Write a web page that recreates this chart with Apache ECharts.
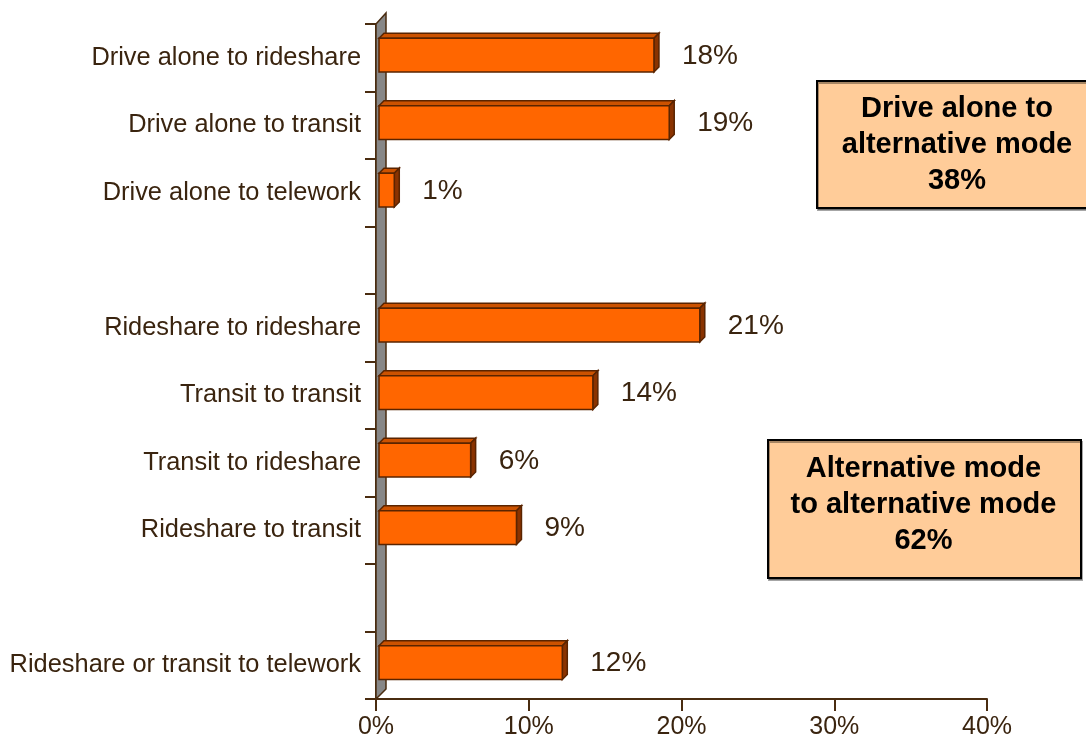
<!DOCTYPE html>
<html>
<head>
<meta charset="utf-8">
<script src="https://cdn.jsdelivr.net/npm/echarts@6/dist/echarts.min.js"></script>
<style>
html,body{margin:0;padding:0;background:#fff;}
#chart{width:1086px;height:743px;}
</style>
</head>
<body>
<div id="chart"></div>
<script>
// ---- data ----
const categories = [
  'Drive alone to rideshare',
  'Drive alone to transit',
  'Drive alone to telework',
  '',
  'Rideshare to rideshare',
  'Transit to transit',
  'Transit to rideshare',
  'Rideshare to transit',
  '',
  'Rideshare or transit to telework'
];
const values = [18, 19, 1, null, 21, 14, 6, 9, null, 12];
const xTickValues = [0, 10, 20, 30, 40];
const box1Lines = ['Drive alone to', 'alternative mode', '38%'];
const box2Lines = ['Alternative mode', 'to alternative mode', '62%'];

// ---- styles ----
const FONT = '"Liberation Sans", Arial, sans-serif';
const TEXT_COLOR = '#3a240f';
const AXIS_COLOR = '#4a2c10';
const EDGE = '#5a2400';

const chart = echarts.init(document.getElementById('chart'), null, {renderer: 'canvas'});

const barData = values.map((v, i) => v === null ? null : [v, i]).filter(d => d !== null);

function renderBar(params, api) {
  const v = api.value(0);
  const idx = api.value(1);
  const base = api.coord([0, idx]);
  const end = api.coord([v, idx]);
  const band = api.size([0, 1])[1];
  const h = band * 0.5;
  const cy = base[1] - band * 0.04;
  const shift = 3, d = 5;
  const x0 = base[0] + shift;
  const x1 = end[0] + shift;
  const yt = cy - h / 2, yb = cy + h / 2;
  return {
    type: 'group',
    children: [
      {type: 'polygon', shape: {points: [[x0, yt], [x0 + d, yt - d], [x1 + d, yt - d], [x1, yt]]},
       style: {fill: '#cc5200', stroke: EDGE, lineWidth: 1.5}},
      {type: 'polygon', shape: {points: [[x1, yt], [x1 + d, yt - d], [x1 + d, yb - d], [x1, yb]]},
       style: {fill: '#8a3300', stroke: EDGE, lineWidth: 1.5}},
      {type: 'rect', shape: {x: x0, y: yt, width: x1 - x0, height: h},
       style: {fill: '#ff6600', stroke: EDGE, lineWidth: 1.5}},
      {type: 'text', x: x1 + 28, y: cy + 1,
       style: {text: v + '%', font: '28px ' + FONT, fill: TEXT_COLOR, align: 'left', verticalAlign: 'middle'}}
    ]
  };
}

function renderWall(params, api) {
  const cs = params.coordSys;
  const x = cs.x, yTop = cs.y, yBot = cs.y + cs.height;
  const dx = 10, dy = 10;
  return {
    type: 'group',
    children: [
      {type: 'polygon', shape: {points: [[x, yTop], [x + dx, yTop - dy - 1], [x + dx, yBot - dy], [x, yBot]]},
       style: {fill: '#878787', stroke: AXIS_COLOR, lineWidth: 1.5}}
    ]
  };
}

const option = {
  backgroundColor: '#ffffff',
  animation: false,
  grid: {left: 376, right: 99, top: 24, bottom: 44, containLabel: false},
  xAxis: {
    type: 'value',
    min: xTickValues[0],
    max: xTickValues[xTickValues.length - 1],
    interval: 10,
    splitLine: {show: false},
    axisLine: {show: true, lineStyle: {color: AXIS_COLOR, width: 2}},
    axisTick: {show: true, length: 12, lineStyle: {color: AXIS_COLOR, width: 2}},
    axisLabel: {formatter: '{value}%', color: TEXT_COLOR, fontSize: 25, fontFamily: FONT, margin: 16}
  },
  yAxis: {
    type: 'category',
    data: categories,
    inverse: true,
    boundaryGap: true,
    axisLine: {show: true, lineStyle: {color: AXIS_COLOR, width: 2}},
    axisTick: {show: true, length: 11, alignWithLabel: false, lineStyle: {color: AXIS_COLOR, width: 2}},
    axisLabel: {color: TEXT_COLOR, fontSize: 25.4, fontFamily: FONT, margin: 15, interval: 0}
  },
  series: [
    {type: 'custom', renderItem: renderWall, data: [[0, 0]], encode: {x: 0, y: 1}, silent: true, z: 1},
    {type: 'custom', renderItem: renderBar, data: barData, encode: {x: 0, y: 1}, z: 2}
  ],
  graphic: [
    {type: 'rect', left: 816, top: 80, shape: {width: 282, height: 127},
     style: {fill: '#ffcc99', stroke: '#000', lineWidth: 2, shadowColor: 'rgba(0,0,0,0.35)', shadowOffsetX: 1, shadowOffsetY: 2}, z: 10},
    {type: 'text', x: 957, y: 145, z: 11,
     style: {text: box1Lines.join('\n'), font: 'bold 29px ' + FONT, fill: '#000', align: 'center', verticalAlign: 'middle', lineHeight: 36}},
    {type: 'rect', left: 767, top: 439, shape: {width: 313, height: 138},
     style: {fill: '#ffcc99', stroke: '#000', lineWidth: 2, shadowColor: 'rgba(0,0,0,0.35)', shadowOffsetX: 1, shadowOffsetY: 2}, z: 10},
    {type: 'text', x: 923.5, y: 505, z: 11,
     style: {text: box2Lines.join('\n'), font: 'bold 29px ' + FONT, fill: '#000', align: 'center', verticalAlign: 'middle', lineHeight: 36}}
  ]
};
chart.setOption(option);
</script>
</body>
</html>
